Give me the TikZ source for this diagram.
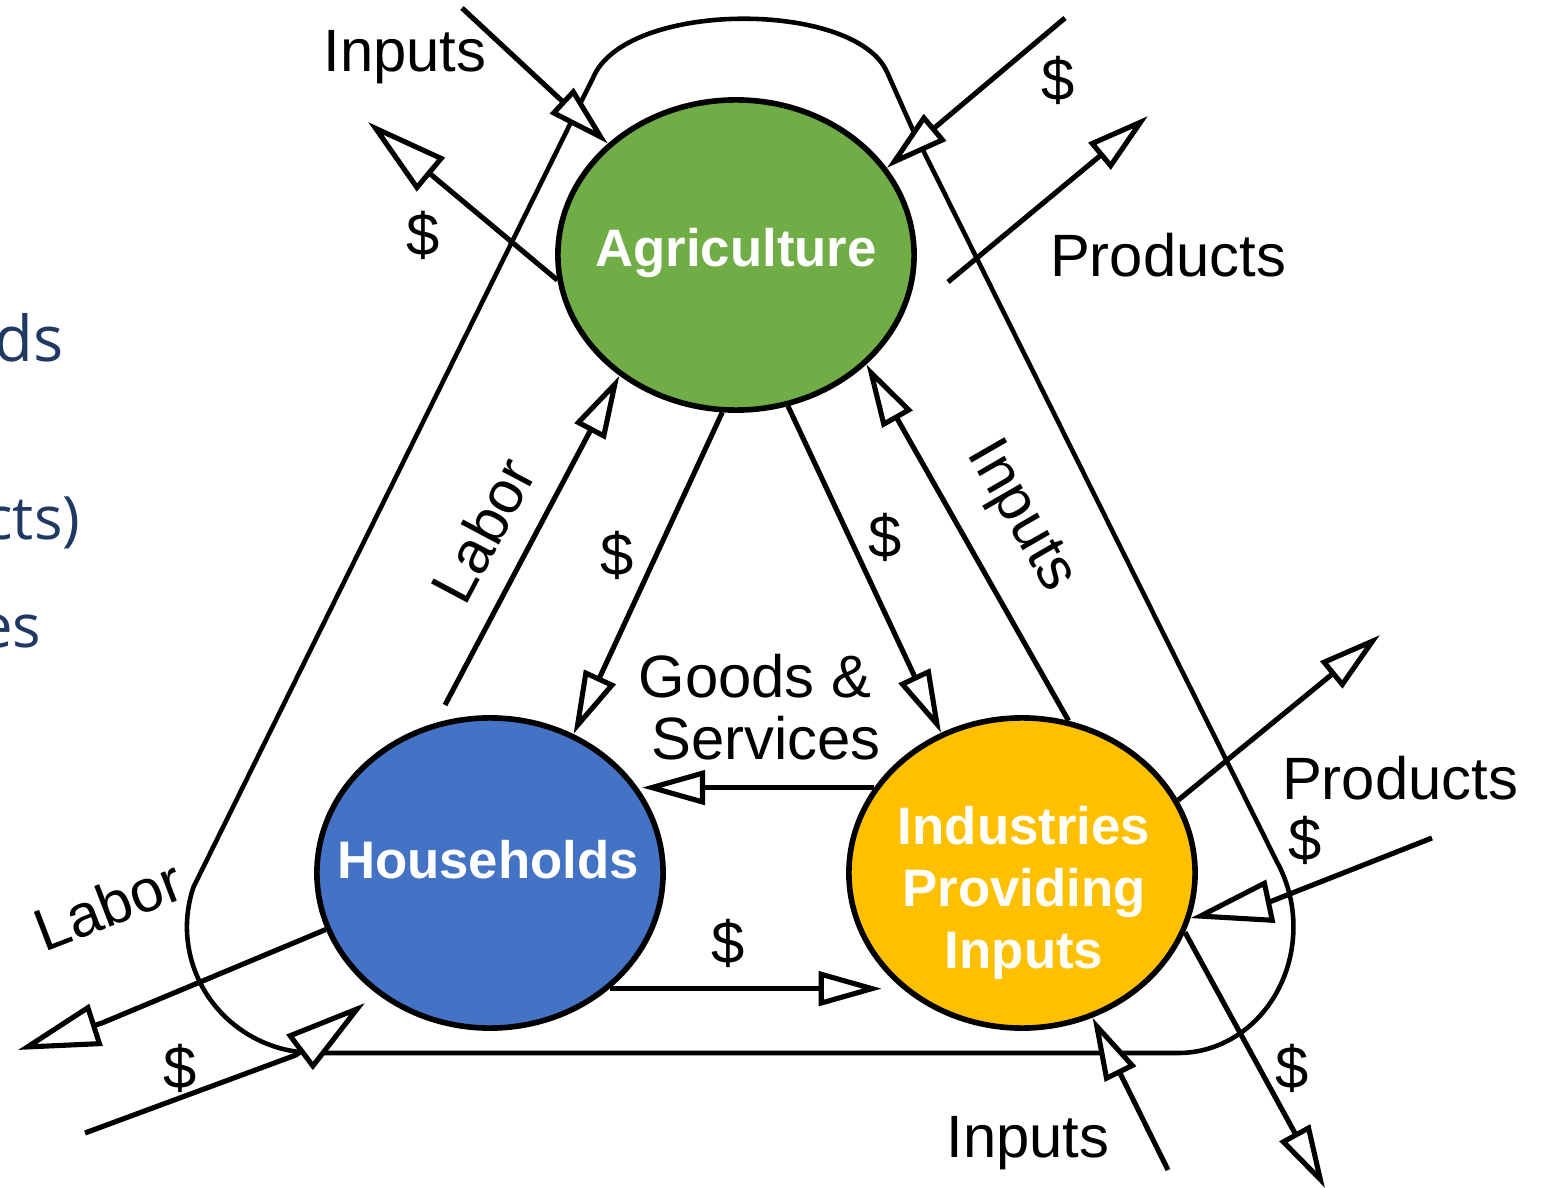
\documentclass[tikz,border=0pt]{standalone}
\usepackage{fontspec}
\setmainfont{Liberation Sans}
\newfontfamily\slidefont{Open Sans}
\usepackage{tikz}
\usetikzlibrary{positioning,shapes,arrows.meta}
\definecolor{agrgreen}{HTML}{70AD47}
\definecolor{hhblue}{HTML}{4472C4}
\definecolor{indgold}{HTML}{FFC000}
\definecolor{slidenavy}{RGB}{32,56,100}

\begin{document}
\begin{tikzpicture}[x=0.01cm, y=-0.01cm,
    sector/.style={ellipse, draw, line width=1.6pt, minimum width=3.46cm, minimum height=3.1cm, inner sep=0pt},
    sectorname/.style={text=white, font=\bfseries\fontsize{15}{17.6}\selectfont, align=center, inner sep=0pt},
    flow/.style={line width=1.45pt, line join=round, -{Triangle[fill=white, length=0.63cm, width=0.34cm]}},
    bigflow/.style={flow, -{Triangle[fill=white, length=0.82cm, width=0.43cm]}},
    rim/.style={line width=1.3pt},
    tag/.style={font=\fontsize{17}{17.5}\selectfont, inner sep=0pt, align=center},
    slide/.style={font=\slidefont\fontsize{17}{20}\selectfont, text=slidenavy, inner sep=0pt, anchor=base east}]
    \useasboundingbox (0,0) rectangle (1544,1188);

    % text cut off at the left edge
    \node[slide, font=\slidefont\fontsize{18}{20}\selectfont] (s1) at (64,362) {ds};
    \node[slide] (s2) at (81,540) {cts)};
    \node[slide] (s3) at (42,648) {es};

    % outer loop
    \draw[rim] (582,100) -- (593,78) .. controls (625,0) and (855,0) .. (887,72) -- (912,128) -- (1277,862)
        arc[start angle=31, end angle=-90, x radius=1.15cm, y radius=1.26cm] -- (315,1053)
        arc[start angle=-90, end angle=-198.5, x radius=1.28cm, y radius=1.26cm] -- cycle;

    % sectors
    \node[sector, fill=agrgreen, minimum width=3.56cm] (agr) at (736,255) {};
    \node[sector, fill=hhblue] (hh) at (490,873) {};
    \node[sector, fill=indgold] (ind) at (1022,873) {};
    \node[sectorname] (agrname) at (736,253) {Agriculture};
    \node[sectorname] (hhname) at (488,860) {Households};
    \node[sectorname] (indname) at (1024,893) {Industries\\Providing\\Inputs};

    % free ends
    \coordinate (c1) at (462,8);
    \coordinate (c2) at (368,122);
    \coordinate (c3) at (1065,18);
    \coordinate (c4) at (948,282);
    \coordinate (c5) at (1148,116);
    \coordinate (c6) at (445,705);
    \coordinate (c7) at (18,1050);
    \coordinate (c7b) at (102,1023);
    \coordinate (c8) at (85,1133);
    \coordinate (c8b) at (296,1055);
    \coordinate (c8t) at (365,1003);
    \coordinate (c9) at (1380,635);
    \coordinate (c10) at (1432,838);
    \coordinate (c10b) at (1272,901);
    \coordinate (c11) at (1325,1188);
    \coordinate (c12) at (1168,1170);

    % flows
    \draw[flow] (c1) -- (agr.139);
    \draw[bigflow] (agr.188) -- (c2);
    \draw[flow] (c3) -- (agr.30);
    \draw[flow] (c4) -- (c5);
    \draw[flow] (c6) -- (agr.226);
    \draw[flow] (agr.265) -- (hh.59);
    \draw[flow] (agr.289) -- (ind.120);
    \draw[flow] (ind.73) -- (agr.320);
    \draw[flow] (ind.150) -- ++(-232,0);
    \draw[flow] (hh.316) -- ++(272,0);
    \draw[bigflow] (hh.199) -- (c7b) -- (c7);
    \draw[bigflow] (c8) -- (c8b) -- (c8t);
    \draw[flow] (ind.25) -- (c9);
    \draw[bigflow] (c10) -- (c10b) -- (ind.345);
    \draw[flow] (ind.340) -- (c11);
    \draw[flow] (c12) -- (ind.296);

    % labels
    \node[tag] (l1) at (405,57) {Inputs};
    \node[tag] (l2) at (423,235) {\$};
    \node[tag] (l3) at (1058,80) {\$};
    \node[tag] (l4) at (1168,255) {Products};
    \node[tag, rotate=62] (l5) at (483,530) {Labor};
    \node[tag] (l6) at (617,555) {\$};
    \node[tag] (l7) at (885,537) {\$};
    \node[tag, rotate=-60] (l8) at (1020,517) {Inputs};
    \node[tag] (l9) at (766,707) {Goods \&\hspace*{0.37em}\\Services};
    \node[tag] (l10) at (728,943) {\$};
    \node[tag, rotate=21] (l11) at (108,905) {Labor};
    \node[tag] (l12) at (180,1068) {\$};
    \node[tag] (l13) at (1400,778) {Products};
    \node[tag] (l14) at (1305,840) {\$};
    \node[tag] (l15) at (1292,1068) {\$};
    \node[tag] (l16) at (1028,1143) {Inputs};
\end{tikzpicture}
\end{document}
